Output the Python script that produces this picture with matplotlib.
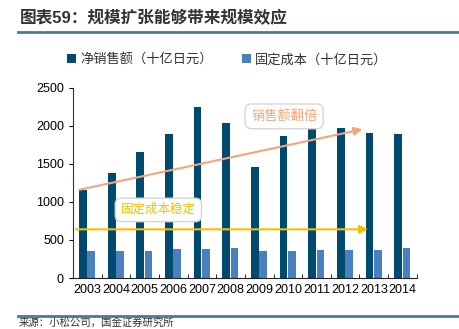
import numpy as np
import matplotlib.pyplot as plt

plt.rcParams['font.family'] = ['Liberation Sans', 'Noto Sans CJK SC', 'DejaVu Sans']

# 数据
years = ['2003', '2004', '2005', '2006', '2007', '2008',
         '2009', '2010', '2011', '2012', '2013', '2014']
sales = [1160, 1380, 1650, 1890, 2250, 2040, 1460, 1870, 1970, 1975, 1905, 1890]
fixed_cost = [355, 355, 355, 375, 375, 390, 355, 355, 370, 370, 370, 390]

sales_label = '净销售额（十亿日元）'
fixed_label = '固定成本（十亿日元）'
title = '图表59：规模扩张能够带来规模效应'
source = '来源：小松公司，国金证券研究所'

c_dark = '#004A6F'
c_light = '#4A80BE'
c_orange = '#F4A57C'
c_yellow = '#F7BE00'

fig = plt.figure(figsize=(4.59, 3.29), dpi=100)
ax = fig.add_axes([0.159, 0.155, 0.749, 0.578])

x = np.arange(len(years))
w = 0.27
b1 = ax.bar(x - 0.15, sales, w, color=c_dark, label=sales_label)
b2 = ax.bar(x + 0.14, fixed_cost, w, color=c_light, label=fixed_label)

ax.set_xlim(-0.5, len(years) - 0.5)
ax.set_ylim(0, 2500)
ax.set_yticks(np.arange(0, 2501, 500))
ax.set_xticks(x)
ax.set_xticklabels(years, fontsize=9)
ax.set_xticks(np.arange(-0.5, len(years), 1), minor=True)
ax.tick_params(axis='x', which='major', length=0, pad=4)
ax.tick_params(axis='x', which='minor', direction='in', length=3)
ax.tick_params(axis='y', labelsize=9, length=3, direction='out')
for s in ['top', 'right']:
    ax.spines[s].set_visible(False)
ax.spines['left'].set_color('#333333')
ax.spines['bottom'].set_color('#222222')

# 趋势箭头
ax.annotate('', xy=(9.6, 1955), xytext=(-0.28, 1160),
            arrowprops=dict(arrowstyle='-|>', color=c_orange, lw=1.5,
                            mutation_scale=12, shrinkA=0, shrinkB=0))
ax.annotate('', xy=(9.8, 640), xytext=(-0.4, 640),
            arrowprops=dict(arrowstyle='-|>', color=c_yellow, lw=1.5,
                            mutation_scale=12, shrinkA=0, shrinkB=0))

box = dict(boxstyle='round,pad=0.45,rounding_size=0.5', fc='white', ec='#D5D5D5', lw=1)
ax.text(2.48, 895, '固定成本稳定', color=c_yellow, fontsize=9, ha='center', va='center', bbox=box)
ax.text(6.87, 2125, '销售额翻倍', color=c_orange, fontsize=9.5, ha='center', va='center', bbox=box)

fig.legend(handles=[b1, b2], loc='center', bbox_to_anchor=(0.495, 0.818), ncol=2,
           frameon=False, fontsize=9.5, handlelength=0.7, handleheight=0.7,
           handletextpad=0.3, columnspacing=2.2, labelcolor='#333333')

fig.text(0.044, 0.948, title, fontsize=12, fontweight='bold', color='#333333',
         ha='left', va='center')
fig.add_artist(plt.Line2D([0.039, 1.0], [0.903, 0.903], color='#4A7A94', lw=2))
fig.add_artist(plt.Line2D([0.039, 1.0], [0.04, 0.04], color='#4A7A94', lw=2))
fig.text(0.041, 0.004, source, fontsize=7.5, color='#333333', ha='left', va='bottom')

fig.savefig('out.png', dpi=100)
